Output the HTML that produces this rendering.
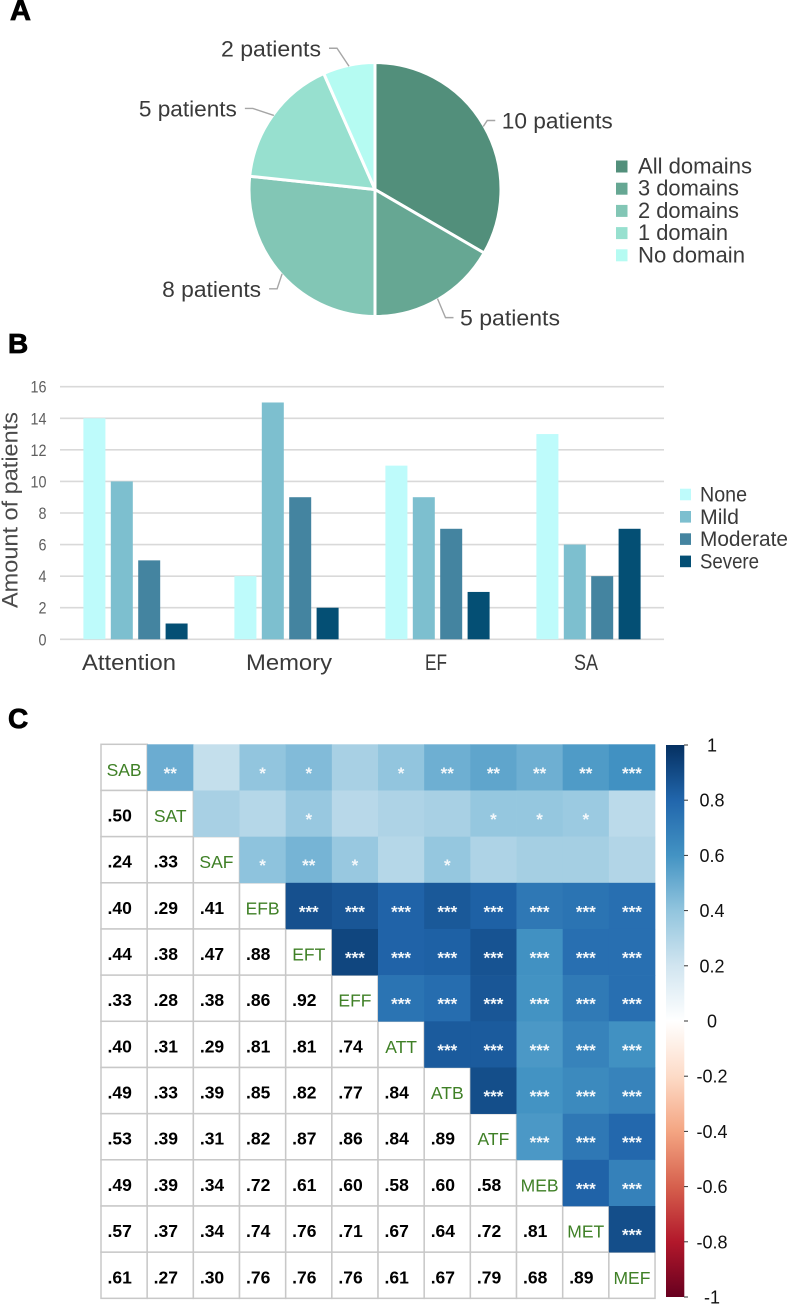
<!DOCTYPE html>
<html lang="en">
<head>
<meta charset="utf-8">
<title>Patient domains, severity and correlation figure</title>
<style>
html,body{margin:0;padding:0;background:#fff;width:787px;height:1306px;overflow:hidden}
svg{display:block;filter:blur(0.35px)}
text{font-family:"Liberation Sans",Arial,sans-serif}
</style>
</head>
<body>
<svg id="fig" xmlns="http://www.w3.org/2000/svg" width="787" height="1306" viewBox="0 0 787 1306">
  <defs>
    <linearGradient id="rdbu" x1="0" y1="0" x2="0" y2="1">
      <stop offset="0" stop-color="#053061"/>
      <stop offset="0.1" stop-color="#2166AC"/>
      <stop offset="0.2" stop-color="#4393C3"/>
      <stop offset="0.3" stop-color="#92C5DE"/>
      <stop offset="0.4" stop-color="#D1E5F0"/>
      <stop offset="0.5" stop-color="#FFFFFF"/>
      <stop offset="0.6" stop-color="#FDDBC7"/>
      <stop offset="0.7" stop-color="#F4A582"/>
      <stop offset="0.8" stop-color="#D6604D"/>
      <stop offset="0.9" stop-color="#B2182B"/>
      <stop offset="1" stop-color="#67001F"/>
    </linearGradient>
  </defs>
  <text x="10" y="20" font-size="29" font-weight="bold" fill="#000" stroke="#000" stroke-width="0.8">A</text>
  <text x="8" y="353" font-size="28" font-weight="bold" fill="#000" stroke="#000" stroke-width="0.8">B</text>
  <text x="8" y="728" font-size="28" font-weight="bold" fill="#000" stroke="#000" stroke-width="0.8">C</text>
  <g id="pie"></g>
  <g id="bars"></g>
  <g id="heat"></g>
</svg>
<script>
const pieCategories = ["All domains", "3 domains", "2 domains", "1 domain", "No domain"];
const pieValues = [10, 5, 8, 5, 2];
const pieColors = ["#528F7B", "#66A793", "#82C6B5", "#97E0CF", "#B5FBF2"];

const barCategories = ["Attention", "Memory", "EF", "SA"];
const barSeriesNames = ["None", "Mild", "Moderate", "Severe"];
const barNone = [14, 4, 11, 13];
const barMild = [10, 15, 9, 6];
const barModerate = [5, 9, 7, 4];
const barSevere = [1, 2, 3, 7];
const barColors = ["#BEFBFB", "#7DBFCF", "#4484A0", "#044F74"];
const barTicks = [0, 2, 4, 6, 8, 10, 12, 14, 16];

const heatLabels = ["SAB", "SAT", "SAF", "EFB", "EFT", "EFF", "ATT", "ATB", "ATF", "MEB", "MET", "MEF"];
const corrRow1 = [0.50];
const corrRow2 = [0.24, 0.33];
const corrRow3 = [0.40, 0.29, 0.41];
const corrRow4 = [0.44, 0.38, 0.47, 0.88];
const corrRow5 = [0.33, 0.28, 0.38, 0.86, 0.92];
const corrRow6 = [0.40, 0.31, 0.29, 0.81, 0.81, 0.74];
const corrRow7 = [0.49, 0.33, 0.39, 0.85, 0.82, 0.77, 0.84];
const corrRow8 = [0.53, 0.39, 0.31, 0.82, 0.87, 0.86, 0.84, 0.89];
const corrRow9 = [0.49, 0.39, 0.34, 0.72, 0.61, 0.60, 0.58, 0.60, 0.58];
const corrRow10 = [0.57, 0.37, 0.34, 0.74, 0.76, 0.71, 0.67, 0.64, 0.72, 0.81];
const corrRow11 = [0.61, 0.27, 0.30, 0.76, 0.76, 0.76, 0.61, 0.67, 0.79, 0.68, 0.89];
const starsSAB = [2, 0, 1, 1, 0, 1, 2, 2, 2, 2, 3];
const starsSAT = [0, 0, 1, 0, 0, 0, 1, 1, 1, 0];
const starsSAF = [1, 2, 1, 0, 1, 0, 0, 0, 0];
const colorbarTicks = [1, 0.8, 0.6, 0.4, 0.2, 0, -0.2, -0.4, -0.6, -0.8, -1];

const SVGNS = "http://www.w3.org/2000/svg";
function mk(parent, tag, attrs, txt) {
  const el = document.createElementNS(SVGNS, tag);
  for (const k in attrs) el.setAttribute(k, attrs[k]);
  if (txt !== undefined) el.textContent = txt;
  parent.appendChild(el);
  return el;
}

/* ---------- Panel A: pie ---------- */
(function () {
  const g = document.getElementById("pie");
  const cx = 375, cy = 189.5, rx = 126, ry = 127;
  const total = pieValues.reduce((a, b) => a + b, 0);
  const angle = v => v / total * 2 * Math.PI;
  const px = a => cx + rx * Math.sin(a);
  const py = a => cy - ry * Math.cos(a);
  /* leader-line layout per slice: elbow offset from rim, run, label width */
  const leaderDX = [4, 8, -5, -21, -12];
  const leaderDY = [-6, 19, 15, -7, -18];
  const leaderRun = [8, 8, -8, -8, -8];
  const labelW = [111, 100, 99, 98, 100];
  let a0 = 0;
  pieValues.forEach((v, i) => {
    const a1 = a0 + angle(v);
    const large = a1 - a0 > Math.PI ? 1 : 0;
    const slice = mk(g, "path", {
      d: `M${cx} ${cy}L${px(a0)} ${py(a0)}A${rx} ${ry} 0 ${large} 1 ${px(a1)} ${py(a1)}Z`,
      fill: pieColors[i], stroke: "#fff", "stroke-width": 3, "stroke-linejoin": "round"
    });
    
    
    const mid = (a0 + a1) / 2;
    const sx = cx + 125 * Math.sin(mid), sy = cy - 126 * Math.cos(mid);
    const ex = sx + leaderDX[i], ey = sy + leaderDY[i];
    const hx = ex + leaderRun[i];
    const leader = mk(g, "polyline", {
      points: `${sx},${sy} ${ex},${ey} ${hx},${ey}`,
      fill: "none", stroke: "#a6a6a6", "stroke-width": 1.4
    });
    
    
    const right = leaderRun[i] > 0;
    const lab = mk(g, "text", {
      x: right ? hx + 6.5 : hx - 8 - labelW[i], y: ey + 8,
      "font-size": 22.5, fill: "#3a3a3a",
      textLength: labelW[i], lengthAdjust: "spacingAndGlyphs"
    }, v + " patients");
    
    
    a0 = a1;
  });
  const legendW = [114, 101, 101, 90, 107];
  pieCategories.forEach((name, i) => {
    const y = 166.5 + i * 22.2;
    const sw = mk(g, "rect", { x: 616, y: y - 6, width: 11.5, height: 12, fill: pieColors[i] });
    
    
    const t = mk(g, "text", {
      x: 638, y: y + 7, "font-size": 22, fill: "#3a3a3a",
      textLength: legendW[i], lengthAdjust: "spacingAndGlyphs"
    }, name);
    
    
  });
})();

/* ---------- Panel B: grouped bars ---------- */
(function () {
  const g = document.getElementById("bars");
  const left = 60, right = 664, y0 = 639.3, y16 = 386.7;
  const yScale = v => y0 - (v - 0) / 16 * (y0 - y16);
  const band = (right - left) / barCategories.length;
  const barW = 22, pitch = 27.4;
  const series = [barNone, barMild, barModerate, barSevere];

  barTicks.forEach(t => {
    const line = mk(g, "line", { x1: left, x2: right, y1: yScale(t), y2: yScale(t), stroke: "#d9d9d9", "stroke-width": 1.6 });
    
    
    const lab = mk(g, "text", {
      x: 46.5, y: yScale(t) + 6, "text-anchor": "end", "font-size": 16.5, fill: "#5f5f5f",
      textLength: t >= 10 ? 16 : 8, lengthAdjust: "spacingAndGlyphs"
    }, t);
    
    
  });

  const title = mk(g, "text", {
    transform: "translate(17.5,510) rotate(-90)", "text-anchor": "middle",
    "font-size": 22.5, fill: "#4a4a4a",
    textLength: 196, lengthAdjust: "spacingAndGlyphs"
  }, "Amount of patients");
  
  

  const catDx = [-6.5, 2.5, -1.5, -2.5];
  const catW = [94, 86, 22, 24];
  barCategories.forEach((c, ci) => {
    const center = left + band * (ci + 0.5);
    series.forEach((vals, si) => {
      const x = center - (pitch * 3 + barW) / 2 + si * pitch;
      const top = yScale(vals[ci]);
      const r = mk(g, "rect", { x: x, y: top, width: barW, height: y0 - top, fill: barColors[si] });
      
      
    });
    const t = mk(g, "text", {
      x: center + catDx[ci], y: 670, "text-anchor": "middle", "font-size": 22, fill: "#3a3a3a",
      textLength: catW[ci], lengthAdjust: "spacingAndGlyphs"
    }, c);
    
    
  });

  const legW = [47, 39, 88, 59];
  barSeriesNames.forEach((name, i) => {
    const y = 494.5 + i * 22.3;
    const sw = mk(g, "rect", { x: 680, y: y - 5.8, width: 11, height: 11.6, fill: barColors[i] });
    
    
    const t = mk(g, "text", {
      x: 700, y: y + 7, "font-size": 21, fill: "#3a3a3a",
      textLength: legW[i], lengthAdjust: "spacingAndGlyphs"
    }, name);
    
    
  });
})();

/* ---------- Panel C: correlation matrix ---------- */
(function () {
  const g = document.getElementById("heat");
  const x0 = 101, y0 = 744.3, cell = 46.17;
  const lower = [[], corrRow1, corrRow2, corrRow3, corrRow4, corrRow5, corrRow6, corrRow7, corrRow8, corrRow9, corrRow10, corrRow11];
  const stops = [[0, [255,255,255]], [0.2, [209,229,240]], [0.4, [146,197,222]], [0.6, [67,147,195]], [0.8, [33,102,172]], [1, [5,48,97]]];
  const colorOf = v => {
    for (let i = 1; i < stops.length; i++) {
      if (v <= stops[i][0]) {
        const t = (v - stops[i - 1][0]) / (stops[i][0] - stops[i - 1][0]);
        const c = stops[i][1].map((b, k) => Math.round(stops[i - 1][1][k] + (b - stops[i - 1][1][k]) * t));
        return `rgb(${c.join(",")})`;
      }
    }
    return "rgb(5,48,97)";
  };
  const starsOf = (r, c) => {
    if (r === 0) return starsSAB[c - 1];
    if (r === 1) return starsSAT[c - 2];
    if (r === 2) return starsSAF[c - 3];
    return 3;
  };
  const n = heatLabels.length;
  for (let r = 0; r < n; r++) {
    for (let c = 0; c <= r; c++) {
      const x = x0 + c * cell, y = y0 + r * cell;
      const box = mk(g, "rect", { x: x, y: y, width: cell, height: cell, fill: "#fff", stroke: "#c8c8c8", "stroke-width": 1.5 });
      
      
      const base = y + cell / 2 + 8;
      if (r === c) {
        const t = mk(g, "text", { x: x + cell / 2, y: base + 0.5, "text-anchor": "middle", "font-size": 17.5, fill: "#3F8026" }, heatLabels[r]);
        
        
      } else {
        const t = mk(g, "text", { x: x + 6.5, y: base, "font-size": 17.5, "font-weight": "bold", fill: "#000" }, lower[r][c].toFixed(2).slice(1));
        
        
      }
    }
  }
  for (let r = 0; r < n; r++) {
    for (let c = r + 1; c < n; c++) {
      const v = lower[c][r];
      const x = x0 + c * cell, y = y0 + r * cell;
      const box = mk(g, "rect", { x: x, y: y, width: cell + 0.3, height: cell + 0.3, fill: colorOf(v) });
      
      
      const s = starsOf(r, c);
      if (s > 0) {
        const t = mk(g, "text", { x: x + cell / 2, y: y + cell / 2 + 11.5, "text-anchor": "middle", "font-size": 17, "font-weight": "bold", fill: "#f4f8fb" }, "*".repeat(s));
        
        
      }
    }
  }

  /* colour bar */
  const cbTop = 745, cbBottom = 1297;
  const cbY = v => cbTop + (1 - v) / 2 * (cbBottom - cbTop);
  const bar = mk(g, "rect", { x: 666, y: cbTop, width: 18.3, height: cbBottom - cbTop, fill: "url(#rdbu)" });
  
  
  colorbarTicks.forEach(v => {
    const y = cbY(v);
    const tick = mk(g, "line", { x1: 684, x2: 688, y1: y, y2: y, stroke: "#333", "stroke-width": 1 });
    
    
    const t = mk(g, "text", { x: 712, y: y + 6.5, "text-anchor": "middle", "font-size": 18, fill: "#111" }, String(v));
    
    
  });
})();
</script>
</body>
</html>
